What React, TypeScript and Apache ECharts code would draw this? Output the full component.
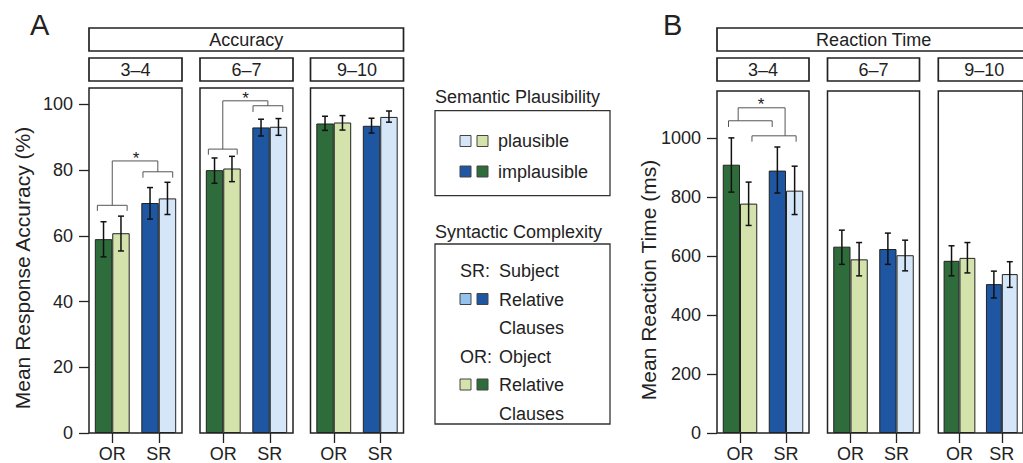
import React, { useEffect, useRef } from 'react';
import * as echarts from 'echarts';

// ---------- data ----------
const categories = ['OR', 'SR'];
const ageGroups = ['3–4', '6–7', '9–10'];
const accTicks = [0, 20, 40, 60, 80, 100];
const rtTicks = [0, 200, 400, 600, 800, 1000];

// Accuracy (%) — per age group: [OR, SR]
const accImplausible = [[59.0, 70.0], [80.0, 93.0], [94.2, 93.5]];
const accPlausible = [[60.8, 71.4], [80.5, 93.2], [94.5, 96.2]];
const accImplLow = [[53.6, 65.1], [76.0, 90.4], [92.1, 91.3]];
const accImplHigh = [[64.3, 74.7], [83.7, 95.5], [96.4, 95.8]];
const accPlausLow = [[55.4, 66.5], [76.5, 90.6], [92.2, 94.6]];
const accPlausHigh = [[66.0, 76.3], [84.2, 95.7], [96.6, 98.0]];

// Reaction time (ms) — per age group: [OR, SR]
const rtImplausible = [[910, 890], [632, 624], [584, 505]];
const rtPlausible = [[778, 822], [589, 603], [594, 539]];
const rtImplLow = [[817, 814], [572, 572], [533, 458]];
const rtImplHigh = [[1001, 970], [688, 678], [635, 549]];
const rtPlausLow = [[704, 741], [533, 550], [543, 494]];
const rtPlausHigh = [[851, 905], [646, 654], [646, 581]];

// significance brackets: [xStart, xEnd, y, leftLegEnd, rightLegEnd] (x in category units, OR = 0, SR = 1)
const accBrackets = [
  [[-0.32, 0.32, 69.3, 67.6, 67.6], [0.66, 1.3, 79.5, 77.7, 77.7], [0, 0.98, 82.8, 69.3, 79.5]],
  [[-0.32, 0.3, 86.4, 84.7, 84.7], [0.64, 1.28, 99.6, 97.7, 97.7], [-0.01, 0.96, 101.1, 86.4, 99.6]],
  [],
];
const accStars = [[0.51, 84.5], [0.48, 103.0], null];
const rtBrackets = [
  [[-0.25, 0.7, 1059, 1038, 1038], [0.26, 1.22, 1008, 988, 988], [-0.04, 0.98, 1103, 1059, 1008]],
  [],
  [],
];
const rtStars = [[0.46, 1127], null, null];

// ---------- styles ----------
const FONT = "'Liberation Sans', Arial, Helvetica, sans-serif";
const TEXT = '#222';
const LINE = '#222';
const COL = {
  darkGreen: '#2e6d3b',
  lightGreen: '#d4e3ac',
  darkBlue: '#1f56a1',
  lightBlue: '#d5e6f8',
  midBlue: '#93c3ec',
};

type Panel = {
  left: number; top: number; width: number; height: number; max: number; ticks: number[];
  impl: number[]; plaus: number[]; implLo: number[]; implHi: number[]; plausLo: number[]; plausHi: number[];
  brackets: number[][]; star: number[] | null; first: boolean;
};

const accLefts = [89, 200, 310.5];
const rtLefts = [717, 827.5, 938.3];

function buildPanels(): Panel[] {
  const out: Panel[] = [];
  for (let g = 0; g < 3; g++) {
    out.push({
      left: accLefts[g], top: 88, width: 93, height: 345, max: 105, ticks: accTicks,
      impl: accImplausible[g], plaus: accPlausible[g], implLo: accImplLow[g], implHi: accImplHigh[g],
      plausLo: accPlausLow[g], plausHi: accPlausHigh[g], brackets: accBrackets[g], star: accStars[g], first: g === 0,
    });
  }
  for (let g = 0; g < 3; g++) {
    out.push({
      left: rtLefts[g], top: 91, width: 92, height: 342, max: 1160, ticks: rtTicks,
      impl: rtImplausible[g], plaus: rtPlausible[g], implLo: rtImplLow[g], implHi: rtImplHigh[g],
      plausLo: rtPlausLow[g], plausHi: rtPlausHigh[g], brackets: rtBrackets[g], star: rtStars[g], first: g === 0,
    });
  }
  return out;
}

function errorRenderer(sign: number) {
  return (params: any, api: any) => {
    const cat = api.value(0);
    const lo = api.value(1);
    const hi = api.value(2);
    const band = api.size([1, 0])[0];
    const cx = api.coord([cat, lo])[0] + sign * band * 0.1875;
    const yLo = api.coord([cat, lo])[1];
    const yHi = api.coord([cat, hi])[1];
    const st = { stroke: '#111', lineWidth: 1.5 };
    return {
      type: 'group',
      children: [
        { type: 'line', shape: { x1: cx, y1: yLo, x2: cx, y2: yHi }, style: st },
        { type: 'line', shape: { x1: cx - 3, y1: yHi, x2: cx + 3, y2: yHi }, style: st },
        { type: 'line', shape: { x1: cx - 3, y1: yLo, x2: cx + 3, y2: yLo }, style: st },
      ],
    };
  };
}

function buildOption() {
  const panels = buildPanels();
  const grid: any[] = [];
  const xAxis: any[] = [];
  const yAxis: any[] = [];
  const series: any[] = [];

  panels.forEach((p, i) => {
    grid.push({
      left: p.left, top: p.top, width: p.width, height: p.height,
      show: true, borderColor: LINE, borderWidth: 1.5, backgroundColor: 'transparent',
    });
    xAxis.push({
      gridIndex: i, type: 'category', data: categories,
      axisLine: { show: false },
      axisTick: { show: true, alignWithLabel: true, length: 10, lineStyle: { color: LINE, width: 1.3 } },
      axisLabel: { fontSize: 18, fontFamily: FONT, color: TEXT, margin: 12 },
      splitLine: { show: false },
    });
    yAxis.push({
      gridIndex: i, type: 'value', min: 0, max: p.max, interval: p.ticks[1] - p.ticks[0],
      axisLine: { show: false },
      axisTick: { show: p.first, length: 10, customValues: p.ticks, lineStyle: { color: LINE, width: 1.3 } },
      axisLabel: {
        show: p.first, customValues: p.ticks, margin: 16, fontSize: 18, fontFamily: FONT, color: TEXT,
        formatter: (v: number) => String(v),
      },
      splitLine: { show: false },
    });

    series.push({
      type: 'bar', name: 'implausible', xAxisIndex: i, yAxisIndex: i,
      barGap: '0%', barCategoryGap: '25%', silent: true,
      itemStyle: { borderColor: LINE, borderWidth: 1 },
      data: p.impl.map((v, j) => ({ value: v, itemStyle: { color: j === 0 ? COL.darkGreen : COL.darkBlue } })),
    });
    series.push({
      type: 'bar', name: 'plausible', xAxisIndex: i, yAxisIndex: i,
      barGap: '0%', barCategoryGap: '25%', silent: true,
      itemStyle: { borderColor: LINE, borderWidth: 1 },
      data: p.plaus.map((v, j) => ({ value: v, itemStyle: { color: j === 0 ? COL.lightGreen : COL.lightBlue } })),
    });
    series.push({
      type: 'custom', xAxisIndex: i, yAxisIndex: i, silent: true, z: 5,
      encode: { x: 0, y: [1, 2] },
      data: p.implLo.map((lo, j) => [j, lo, p.implHi[j]]),
      renderItem: errorRenderer(-1),
    });
    series.push({
      type: 'custom', xAxisIndex: i, yAxisIndex: i, silent: true, z: 5,
      encode: { x: 0, y: [1, 2] },
      data: p.plausLo.map((lo, j) => [j, lo, p.plausHi[j]]),
      renderItem: errorRenderer(1),
    });
    if (p.brackets.length) {
      const list = p.brackets;
      series.push({
        type: 'custom', xAxisIndex: i, yAxisIndex: i, silent: true, z: 6,
        encode: { x: 0, y: 1 },
        data: list.map((b) => [0, b[2]]),
        renderItem: (params: any, api: any) => {
          const b = list[params.dataIndex];
          const band = api.size([1, 0])[0];
          const x0 = api.coord([0, 0])[0];
          const X = (f: number) => x0 + f * band;
          const Y = (v: number) => api.coord([0, v])[1];
          return {
            type: 'polyline',
            shape: { points: [[X(b[0]), Y(b[3])], [X(b[0]), Y(b[2])], [X(b[1]), Y(b[2])], [X(b[1]), Y(b[4])]] },
            style: { stroke: '#555', lineWidth: 1, fill: 'none' },
          };
        },
      });
    }
    if (p.star) {
      const s = p.star;
      series.push({
        type: 'custom', xAxisIndex: i, yAxisIndex: i, silent: true, z: 6,
        encode: { x: 0, y: 1 },
        data: [[0, s[1]]],
        renderItem: (params: any, api: any) => {
          const band = api.size([1, 0])[0];
          const x0 = api.coord([0, 0])[0];
          const y = api.coord([0, s[1]])[1];
          return {
            type: 'text', x: x0 + s[0] * band, y: y + 3.5,
            style: { text: '*', fontSize: 17, fontFamily: FONT, fill: TEXT, align: 'center', verticalAlign: 'middle' },
          };
        },
      });
    }
  });

  // ---------- graphic: strips, panel letters, axis titles, legends ----------
  const txt = (text: string, x: number, y: number, size: number, align = 'center', extra: any = {}) => ({
    type: 'text', x, y, silent: true, ...extra,
    style: {
      text, fontSize: size, fontFamily: FONT, fill: TEXT,
      align, textAlign: align, verticalAlign: 'middle', textVerticalAlign: 'middle',
    },
  });
  const box = (x: number, y: number, w: number, h: number, lw = 1.7) => ({
    type: 'rect', silent: true, shape: { x, y, width: w, height: h },
    style: { fill: '#fff', stroke: LINE, lineWidth: lw },
  });
  const swatch = (x: number, y: number, color: string) => ({
    type: 'rect', silent: true, shape: { x, y, width: 11, height: 11 },
    style: { fill: color, stroke: '#444', lineWidth: 1 },
  });

  const graphic: any[] = [];
  const stripSets = [
    { title: 'Accuracy', lefts: accLefts, width: 93 },
    { title: 'Reaction Time', lefts: rtLefts, width: 92 },
  ];
  stripSets.forEach((s) => {
    const x0 = s.lefts[0];
    const x1 = s.lefts[2] + s.width;
    graphic.push(box(x0, 28, x1 - x0, 23));
    graphic.push(txt(s.title, (x0 + x1) / 2, 39.5, 18));
    s.lefts.forEach((l, g) => {
      graphic.push(box(l, 58, s.width, 23));
      graphic.push(txt(ageGroups[g], l + s.width / 2, 69.5, 18));
    });
  });

  graphic.push(txt('A', 30, 25, 29, 'left'));
  graphic.push(txt('B', 663, 25, 29, 'left'));
  graphic.push(txt('Mean Response Accuracy (%)', 22.5, 268, 21, 'center', { rotation: Math.PI / 2 }));
  graphic.push(txt('Mean Reaction Time (ms)', 648, 280, 21, 'center', { rotation: Math.PI / 2 }));

  // legend 1
  graphic.push(txt('Semantic Plausibility', 435, 97, 18, 'left'));
  graphic.push({ ...box(435, 110.7, 175, 85, 1.3), style: { fill: 'none', stroke: '#333', lineWidth: 1.3 } });
  graphic.push(swatch(460, 135.5, COL.lightBlue));
  graphic.push(swatch(477, 135.5, COL.lightGreen));
  graphic.push(txt('plausible', 498, 141, 18, 'left'));
  graphic.push(swatch(460, 166, COL.darkBlue));
  graphic.push(swatch(477, 166, COL.darkGreen));
  graphic.push(txt('implausible', 498, 171.5, 18, 'left'));

  // legend 2
  graphic.push(txt('Syntactic Complexity', 435, 232, 18, 'left'));
  graphic.push({ ...box(435, 244, 175, 180, 1.3), style: { fill: 'none', stroke: '#333', lineWidth: 1.3 } });
  const rows = [271, 299.5, 328, 356.5, 385, 413.5];
  graphic.push(txt('SR:', 460, rows[0], 18, 'left'));
  graphic.push(txt('Subject', 499, rows[0], 18, 'left'));
  graphic.push(swatch(460, rows[1] - 6, COL.midBlue));
  graphic.push(swatch(477, rows[1] - 6, COL.darkBlue));
  graphic.push(txt('Relative', 499, rows[1], 18, 'left'));
  graphic.push(txt('Clauses', 499, rows[2], 18, 'left'));
  graphic.push(txt('OR:', 460, rows[3], 18, 'left'));
  graphic.push(txt('Object', 499, rows[3], 18, 'left'));
  graphic.push(swatch(460, rows[4] - 6, COL.lightGreen));
  graphic.push(swatch(477, rows[4] - 6, COL.darkGreen));
  graphic.push(txt('Relative', 499, rows[4], 18, 'left'));
  graphic.push(txt('Clauses', 499, rows[5], 18, 'left'));

  return {
    animation: false,
    backgroundColor: '#fff',
    textStyle: { fontFamily: FONT },
    grid, xAxis, yAxis, series, graphic,
  };
}

export default function App() {
  const ref = useRef<HTMLDivElement>(null);
  useEffect(() => {
    if (!ref.current) return;
    const chart = echarts.init(ref.current, undefined, { renderer: 'svg' });
    chart.setOption(buildOption() as any);
    return () => chart.dispose();
  }, []);
  return <div ref={ref} style={{ position: 'absolute', left: 0, top: 0, width: 1023, height: 463 }} />;
}
